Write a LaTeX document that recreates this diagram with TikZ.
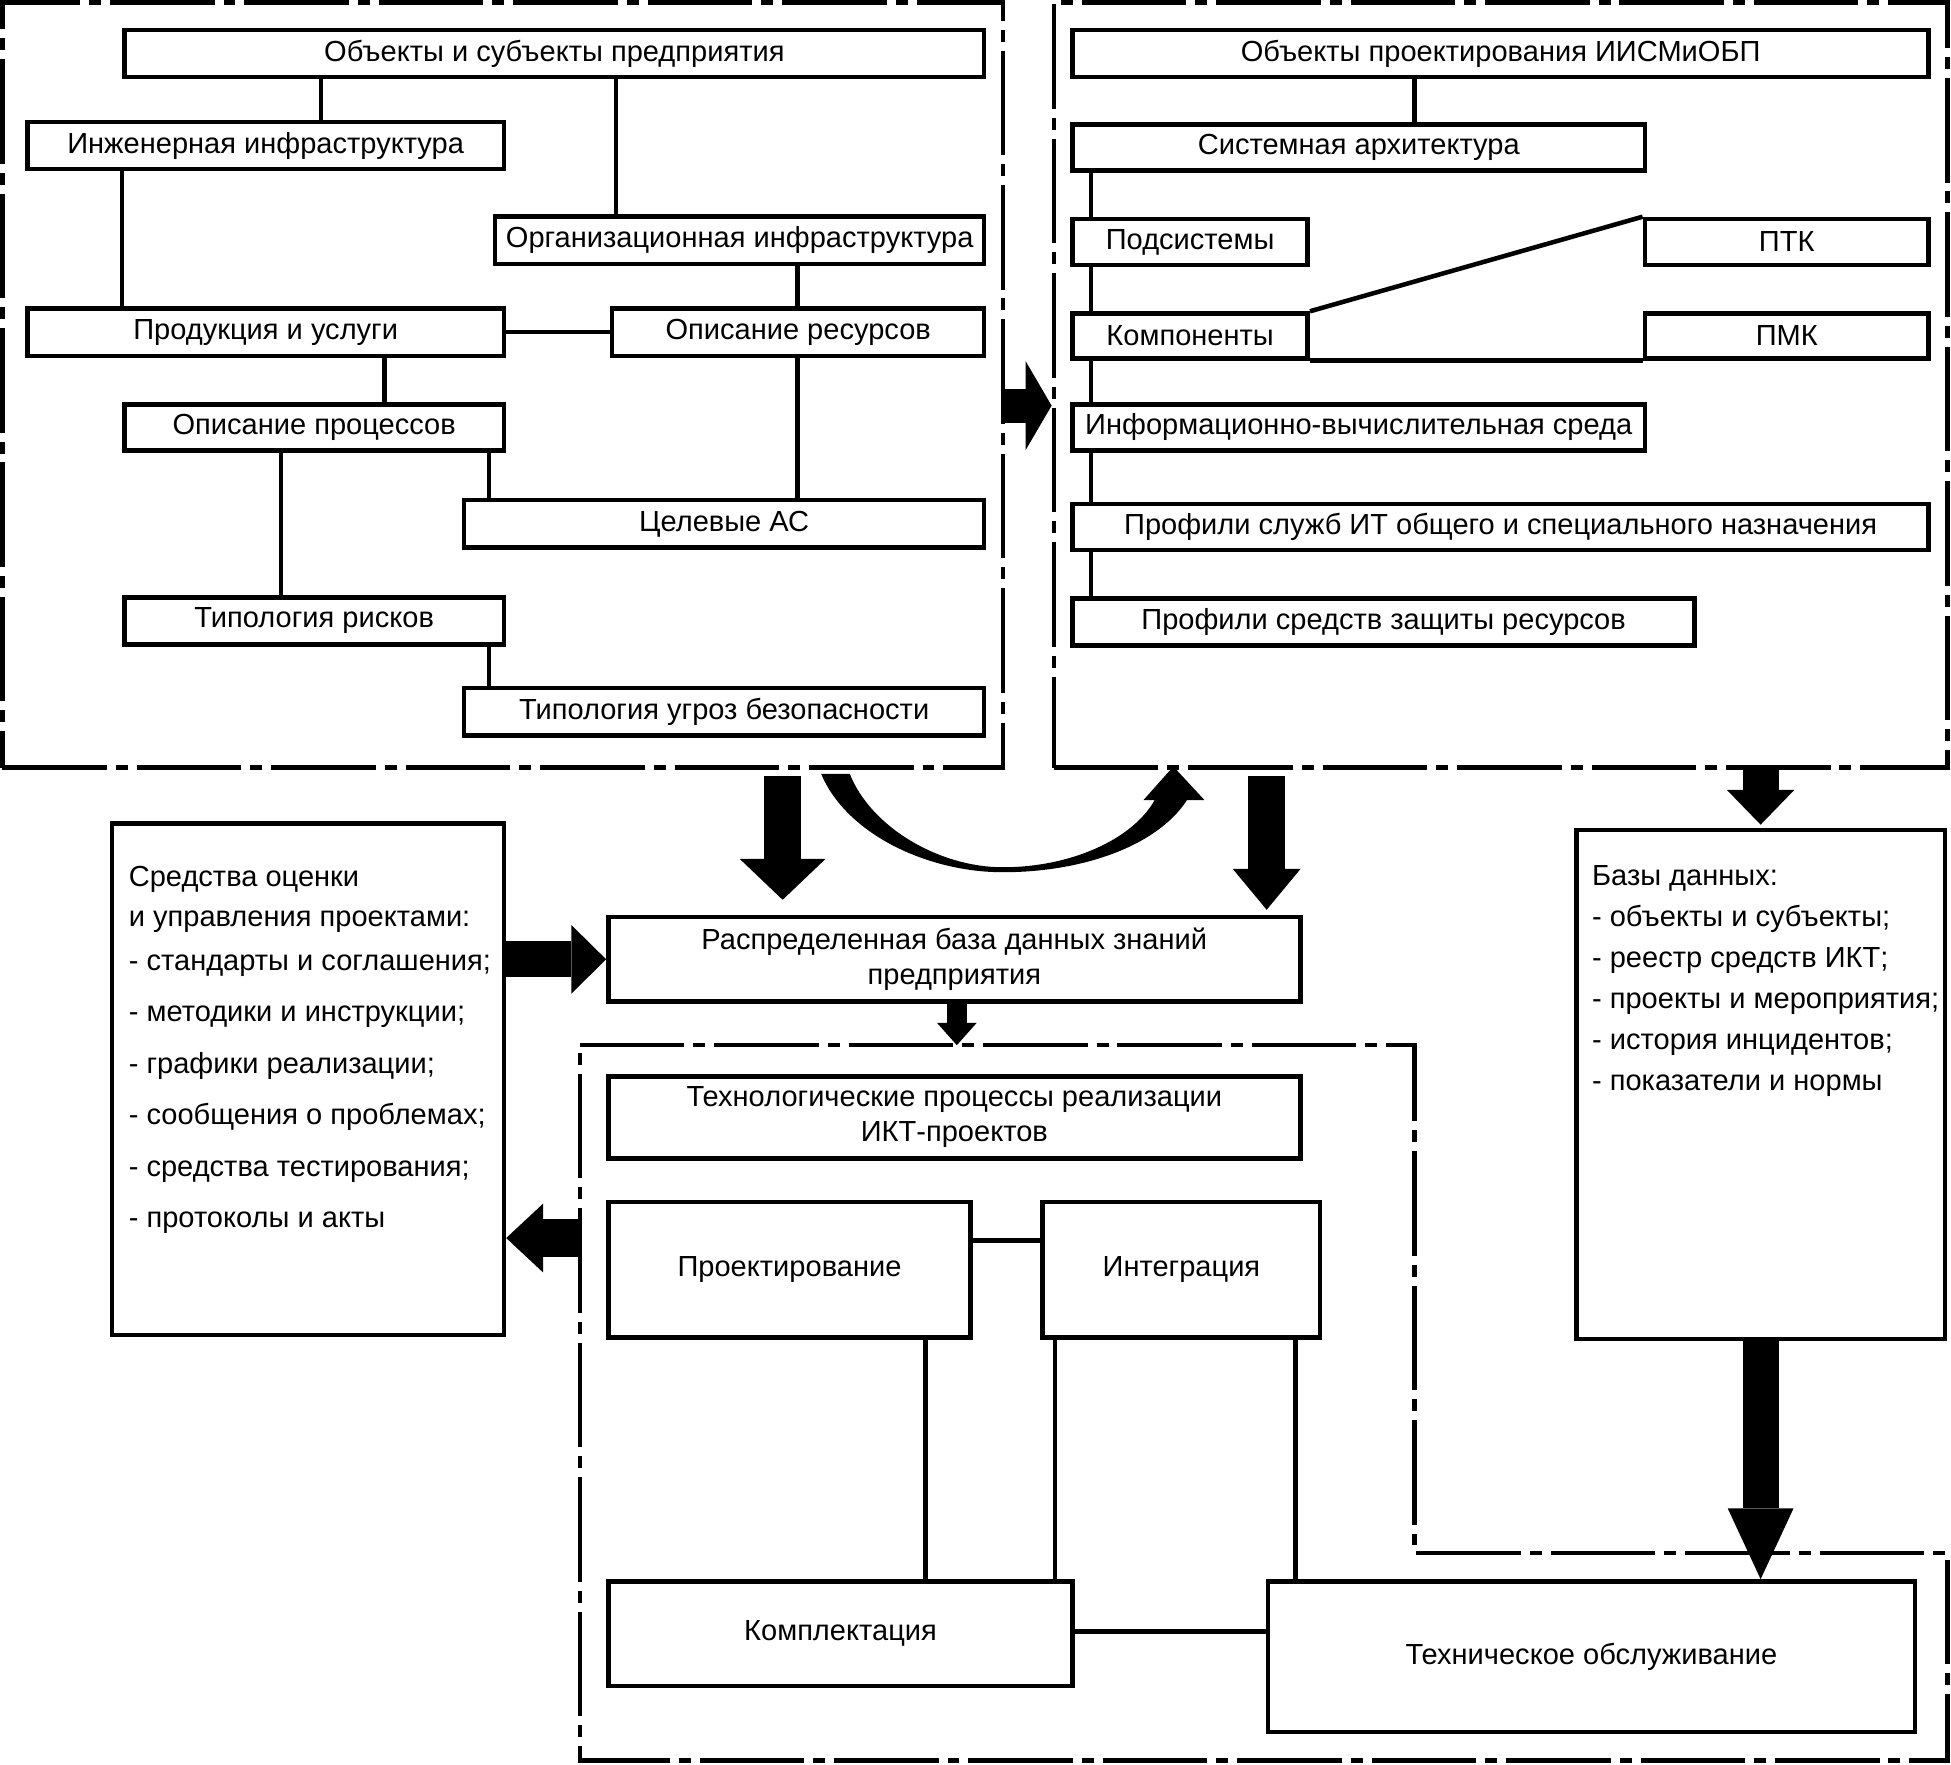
\documentclass[tikz,border=0pt]{standalone}
\usepackage{fontspec}
\setmainfont{Liberation Sans}
\usetikzlibrary{arrows.meta}

\newcommand{\boxfont}{\fontsize{8.3}{10}\selectfont}

\begin{document}
\begin{tikzpicture}[
  x=0.0125cm, y=-0.0125cm,
  rect/.style n args={4}{at={({(#1+#3)/2},{(#2+#4)/2})}, minimum width={(#3-#1)*0.0125cm}, minimum height={(#4-#2)*0.0125cm}},
  box/.style={draw, line width=1.3pt, inner sep=0pt, align=center, font=\boxfont},
  frame/.style={draw, line width=1.3pt, inner sep=0pt, dash pattern=on 1.05cm off 0.09cm on 0.12cm off 0.09cm},
  link/.style={line width=1.3pt},
  blk/.style n args={3}{line width=#1, -{Triangle[width=#2, length=#3, line width=0pt]}},
  txt/.style={inner sep=0pt, align=left, anchor=north west}
]
\useasboundingbox (0,0) rectangle (1568,1418);

% objects of the enterprise
\node[frame, rect={2}{2}{806}{617}] (lfr) {};
\node[box, rect={100}{24}{791}{62}] (obj) {Объекты и субъекты предприятия};
\node[box, rect={22}{98}{405}{136}] (ing) {Инженерная инфраструктура};
\node[box, rect={398}{174}{791}{212}] (org) {Организационная инфраструктура};
\node[box, rect={22}{248}{405}{286}] (prod) {Продукция и услуги};
\node[box, rect={492}{248}{791}{286}] (res) {Описание ресурсов};
\node[box, rect={100}{325}{405}{362}] (proc) {Описание процессов};
\node[box, rect={373}{402}{791}{440}] (tgt) {Целевые АС};
\node[box, rect={100}{480}{405}{518}] (risk) {Типология рисков};
\node[box, rect={373}{553}{791}{591}] (thr) {Типология угроз безопасности};

\draw[link] (obj.south -| 258,0) -- (ing.north -| 258,0);
\draw[link] (obj.south -| 495,0) -- (org.north -| 495,0);
\draw[link] (ing.south -| 98,0) -- (prod.north -| 98,0);
\draw[link] (org.south -| 641,0) -- (res.north -| 641,0);
\draw[link] (prod) -- (res);
\draw[link] (prod.south -| 309,0) -- (proc.north -| 309,0);
\draw[link] (res.south -| 641,0) -- (tgt.north -| 641,0);
\draw[link] (proc.south -| 226,0) -- (risk.north -| 226,0);
\draw[link] (proc.south -| 393,0) -- (tgt.north -| 393,0);
\draw[link] (risk.south -| 393,0) -- (thr.north -| 393,0);

% design objects
\node[frame, rect={847}{2}{1565}{617}] (rfr) {};
\node[box, rect={862}{24}{1550}{62}] (pobj) {Объекты проектирования ИИСМиОБП};
\node[box, rect={862}{100}{1322}{137}] (arch) {Системная архитектура};
\node[box, rect={862}{176}{1051}{213}] (sub) {Подсистемы};
\node[box, rect={1322}{176}{1550}{213}] (ptk) {ПТК};
\node[box, rect={862}{252}{1051}{288}] (comp) {Компоненты};
\node[box, rect={1322}{252}{1550}{288}] (pmk) {ПМК};
\node[box, rect={862}{325}{1322}{362}] (env) {Информационно-вычислительная среда};
\node[box, rect={862}{405}{1550}{442}] (svc) {Профили служб ИТ общего и специального назначения};
\node[box, rect={862}{481}{1362}{519}] (prot) {Профили средств защиты ресурсов};

\draw[link] (pobj.south -| 1137,0) -- (arch.north -| 1137,0);
\draw[link] (arch.south -| 877,0) -- (sub.north -| 877,0);
\draw[link] (sub.south -| 877,0) -- (comp.north -| 877,0);
\draw[link] (comp.south -| 877,0) -- (env.north -| 877,0);
\draw[link] (env.south -| 877,0) -- (svc.north -| 877,0);
\draw[link] (svc.south -| 877,0) -- (prot.north -| 877,0);
\draw[link] (comp.north east) -- (ptk.north west);
\draw[link] (comp.south east) -- (pmk.south west);

% knowledge base and side boxes
\node[box, rect={489}{737}{1045}{805}] (rdb) {Распределенная база данных знаний\\предприятия};
\node[box, rect={90}{662}{405}{1073}] (tools) {};
\node[txt, font=\fontsize{8.3}{11.4}\selectfont] (tools-txt) at (103,696) {Средства оценки\\
и управления проектами:\\[1pt]
- стандарты и соглашения;\\[3.3pt]
- методики и инструкции;\\[3.3pt]
- графики реализации;\\[3.3pt]
- сообщения о проблемах;\\[3.3pt]
- средства тестирования;\\[3.3pt]
- протоколы и акты};
\node[box, rect={1267}{667}{1563}{1076}] (db) {};
\node[txt, font=\fontsize{8.3}{11.7}\selectfont] (db-txt) at (1279,695) {Базы данных:\\
- объекты и субъекты;\\
- реестр средств ИКТ;\\
- проекты и мероприятия;\\
- история инцидентов;\\
- показатели и нормы};

% project processes
\coordinate (bf1) at (466,840);
\coordinate (bf2) at (1137,840);
\coordinate (bf3) at (1137,1248);
\coordinate (bf4) at (1565,1248);
\coordinate (bf5) at (1565,1415);
\coordinate (bf6) at (466,1415);
\draw[frame] (bf1) -- (bf2) -- (bf3) -- (bf4) -- (bf5) -- (bf6) -- cycle;

\node[box, rect={489}{865}{1045}{931}] (tproc) {Технологические процессы реализации\\ИКТ-проектов};
\node[box, rect={489}{966}{780}{1075}] (des) {Проектирование};
\node[box, rect={838}{966}{1061}{1075}] (integ) {Интеграция};
\node[box, rect={489}{1271}{862}{1355}] (kit) {Комплектация};
\node[box, rect={1019}{1271}{1539}{1392}] (tech) {Техническое обслуживание};

\draw[link] (des.east |- 0,997) -- (integ.west |- 0,997);
\draw[link] (des.south -| 744,0) -- (kit.north -| 744,0);
\draw[link] (integ.south -| 848,0) -- (kit.north -| 848,0);
\draw[link] (integ.south -| 1041,0) -- (tech.north -| 1041,0);
\draw[link] (kit.east |- 0,1311) -- (tech.west |- 0,1311);

% block arrows
\draw[blk={0.34cm}{0.89cm}{0.26cm}] (lfr.east |- 0,326) -- (rfr.west |- 0,326);
\draw[blk={0.375cm}{0.86cm}{0.41cm}, shorten <=0.06cm, shorten >=0.15cm] (lfr.south -| 629,0) -- (rdb.north -| 629,0);
\draw[blk={0.375cm}{0.68cm}{0.41cm}, shorten <=0.06cm, shorten >=0.05cm] (rfr.south -| 1018,0) -- (rdb.north -| 1018,0);
\draw[blk={0.36cm}{0.68cm}{0.35cm}, shorten >=0.03cm] (rfr.south -| 1415,0) -- (db.north -| 1415,0);
\draw[blk={0.36cm}{0.69cm}{0.35cm}] (tools.east |- 0,771) -- (rdb.west |- 0,771);
\draw[blk={0.39cm}{0.69cm}{0.37cm}] (bf1 |- 0,995) -- (tools.east |- 0,995);
\draw[blk={0.2cm}{0.4cm}{0.225cm}] (rdb.south -| 769,0) -- (bf1 -| 769,0);
\draw[blk={0.36cm}{0.66cm}{0.71cm}] (db.south -| 1415,0) -- (tech.north -| 1415,0);

% curved arrow between the frames
\fill (660,622) .. controls (680,670) and (745,701) .. (806,701)
  .. controls (870,701) and (930,680) .. (954,643)
  -- (968,643) -- (943,616) -- (919,643) -- (928,643)
  .. controls (910,675) and (860,697) .. (806,697)
  .. controls (755,697) and (700,665) .. (683,622) -- cycle;
\end{tikzpicture}
\end{document}
